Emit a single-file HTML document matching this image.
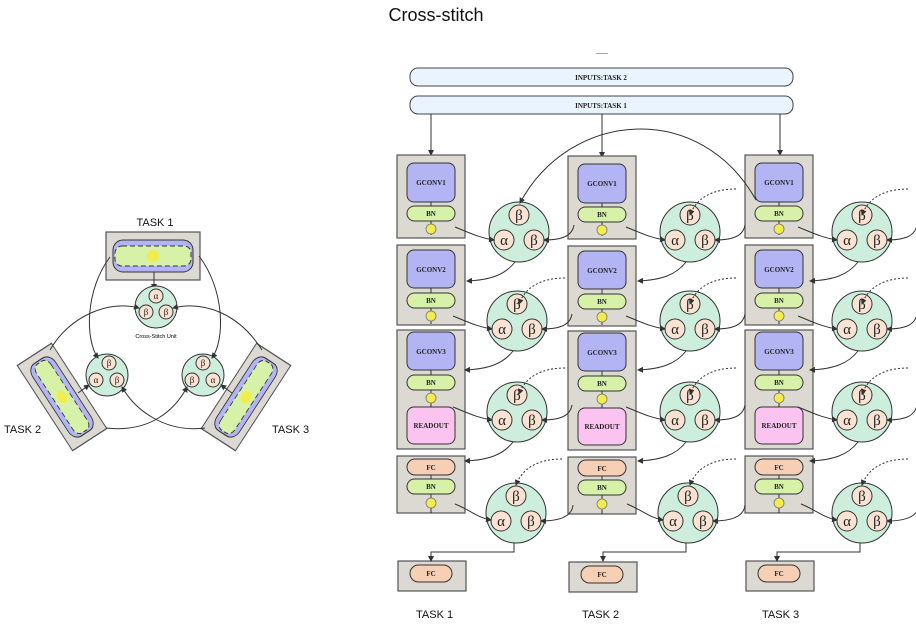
<!DOCTYPE html>
<html><head><meta charset="utf-8"><style>
html,body{margin:0;padding:0;background:#fff;}
svg{display:block;font-family:"Liberation Serif",serif;}
.bx{fill:#dcd8d2;stroke:#555;stroke-width:1.2}
.gc{fill:#b3b4f3;stroke:#333;stroke-width:1}
.bn{fill:#d7f2a8;stroke:#333;stroke-width:1}
.fc{fill:#f6cfb4;stroke:#333;stroke-width:1}
.ro{fill:#fbc3f0;stroke:#333;stroke-width:1}
.ball{fill:#f3ec4f;stroke:#777;stroke-width:0.8}
.cs{fill:#cdeedd;stroke:#333;stroke-width:1}
.sc{fill:#fbe3d3;stroke:#333;stroke-width:1}
.ln{fill:none;stroke:#333;stroke-width:1}
.dl{fill:none;stroke:#333;stroke-width:1;stroke-dasharray:2 2}
.t{font-size:7px;text-anchor:middle;fill:#222;font-weight:bold}
.g{font-size:15px;text-anchor:middle;fill:#222}
.gs{font-size:9px;text-anchor:middle;fill:#222}
.lab{font-family:"Liberation Sans",sans-serif;font-size:11px;fill:#111}
</style></head><body>
<svg width="916" height="625" viewBox="0 0 916 625" xmlns="http://www.w3.org/2000/svg">
<defs><marker id="a" markerWidth="6" markerHeight="6" refX="5" refY="3" orient="auto"><path d="M0,0 L6,3 L0,6 z" fill="#333"/></marker>
<g id="tb">
<rect class="bx" x="-47" y="-24" width="94" height="48"/>
<rect x="-40" y="-16" width="80" height="32" rx="10" fill="#b3b4f3" stroke="#333"/>
<rect x="-38" y="-10" width="76" height="20" rx="7" fill="#d7f2a8" stroke="#333" stroke-dasharray="5 3"/>
<circle cx="0" cy="0" r="6" fill="#f3ec4f"/>
</g>
</defs>
<text x="436" y="21" font-family="Liberation Sans,sans-serif" font-size="18" text-anchor="middle" fill="#111">Cross-stitch</text>
<text x="602" y="54" font-size="8" text-anchor="middle">......</text>
<rect x="410" y="68" width="383" height="18" rx="8" fill="#e9f4fe" stroke="#444"/>
<text x="601" y="80" class="t">INPUTS:TASK 2</text>
<rect x="410" y="96" width="383" height="18" rx="8" fill="#e9f4fe" stroke="#444"/>
<text x="601" y="108" class="t">INPUTS:TASK 1</text>
<path class="ln" marker-end="url(#a)" d="M431 114 V155"/>
<path class="ln" marker-end="url(#a)" d="M602 114 V157"/>
<path class="ln" marker-end="url(#a)" d="M780 114 V155"/>

<g id="col1">
<rect class="bx" x="397" y="155" width="68" height="83"/>
<line class="ln" x1="431" y1="200" x2="431" y2="235"/>
<rect class="gc" x="407" y="163" width="48" height="39" rx="7"/><text x="431" y="185" class="t">GCONV1</text>
<rect class="bn" x="407" y="206" width="48" height="15" rx="7.5"/><text x="431" y="216" class="t">BN</text>
<circle class="ball" cx="431" cy="229" r="5"/>
<rect class="bx" x="397" y="245" width="68" height="80"/>
<line class="ln" x1="431" y1="287" x2="431" y2="324"/>
<rect class="gc" x="407" y="250" width="48" height="38" rx="7"/><text x="431" y="272" class="t">GCONV2</text>
<rect class="bn" x="407" y="293" width="48" height="15" rx="7.5"/><text x="431" y="303" class="t">BN</text>
<circle class="ball" cx="431" cy="316" r="5"/>
<rect class="bx" x="397" y="330" width="68" height="119"/>
<line class="ln" x1="431" y1="370" x2="431" y2="410"/>
<rect class="gc" x="407" y="332" width="48" height="38" rx="7"/><text x="431" y="354" class="t">GCONV3</text>
<rect class="bn" x="407" y="375" width="48" height="15" rx="7.5"/><text x="431" y="385" class="t">BN</text>
<circle class="ball" cx="431" cy="398" r="5"/>
<rect class="ro" x="407" y="407" width="48" height="37" rx="7"/><text x="431" y="428" class="t">READOUT</text>
<rect class="bx" x="397" y="456" width="68" height="57"/>
<line class="ln" x1="431" y1="474" x2="431" y2="513"/>
<rect class="fc" x="407" y="459" width="48" height="16" rx="8"/><text x="431" y="470" class="t">FC</text>
<rect class="bn" x="407" y="479" width="48" height="15" rx="7.5"/><text x="431" y="489" class="t">BN</text>
<circle class="ball" cx="431" cy="503" r="5"/>
<rect class="bx" x="398" y="561" width="68" height="30"/>
<rect class="fc" x="410" y="565" width="42" height="17" rx="8.5"/><text x="431" y="576" class="t">FC</text>
</g>
<use href="#col1" x="171" y="1"/>
<use href="#col1" x="348" y="0"/>

<g id="csrow">
<circle class="cs" cx="519" cy="232" r="30"/>
<circle class="sc" cx="519" cy="215" r="10"/><text x="519" y="220" class="g">β</text>
<circle class="sc" cx="504" cy="240" r="10"/><text x="504" y="245" class="g">α</text>
<circle class="sc" cx="534" cy="240" r="10"/><text x="534" y="245" class="g">β</text>
<path class="ln" marker-end="url(#a)" d="M455 227 C470 233, 480 238, 494 240"/>
<path class="ln" marker-end="url(#a)" d="M574 225 C572 237, 560 240, 544 240"/>
<path class="ln" marker-end="url(#a)" d="M515 262 C505 275, 490 280, 467 281"/>
</g>
<use href="#csrow" x="171" y="0"/>
<use href="#csrow" x="343" y="0"/>
<use href="#csrow" x="-2" y="89"/>
<use href="#csrow" x="171" y="89"/>
<use href="#csrow" x="343" y="89"/>
<use href="#csrow" x="-2" y="180"/>
<use href="#csrow" x="171" y="180"/>
<use href="#csrow" x="343" y="180"/>
<g id="csr4">
<circle class="cs" cx="516" cy="513" r="30"/>
<circle class="sc" cx="516" cy="496" r="10"/><text x="516" y="501" class="g">β</text>
<circle class="sc" cx="501" cy="521" r="10"/><text x="501" y="526" class="g">α</text>
<circle class="sc" cx="531" cy="521" r="10"/><text x="531" y="526" class="g">β</text>
<path class="ln" marker-end="url(#a)" d="M455 504 C470 510, 478 518, 491 520"/>
<path class="ln" marker-end="url(#a)" d="M573 505 C572 517, 558 521, 541 521"/>
<path class="ln" marker-end="url(#a)" d="M514 543 V552 H431 V561"/>
</g>
<use href="#csr4" x="172" y="0"/>
<use href="#csr4" x="346" y="0"/>
<g id="dots"><path class="dl" marker-end="url(#a)" d="M565 278 C540 278, 525 288, 519 304"/></g>
<use href="#dots" x="0" y="90"/>
<use href="#dots" x="-3" y="181"/>
<use href="#dots" x="171" y="-89"/><use href="#dots" x="171" y="0"/><use href="#dots" x="171" y="90"/><use href="#dots" x="171" y="181"/>
<use href="#dots" x="343" y="-89"/><use href="#dots" x="343" y="0"/><use href="#dots" x="343" y="90"/><use href="#dots" x="343" y="181"/>
<path class="ln" marker-end="url(#a)" d="M756 200 C700 100, 570 110, 520 203"/>

<text x="416" y="618" class="lab">TASK 1</text>
<text x="582" y="618" class="lab">TASK 2</text>
<text x="762" y="618" class="lab">TASK 3</text>

<text x="155" y="226" class="lab" text-anchor="middle">TASK 1</text>
<use href="#tb" transform="translate(153,256)"/>
<use href="#tb" transform="translate(62,397) rotate(57) scale(1.08,0.85)"/>
<use href="#tb" transform="translate(246,397) rotate(-57) scale(1.08,0.85)"/>
<text x="4" y="433" class="lab">TASK 2</text>
<text x="272" y="433" class="lab">TASK 3</text>
<path class="ln" marker-end="url(#a)" d="M154 272 V289"/>
<circle class="cs" cx="156" cy="307" r="21"/>
<circle class="sc" cx="156" cy="296" r="7"/><text x="156" y="299" class="gs">α</text>
<circle class="sc" cx="146" cy="312" r="7"/><text x="146" y="315" class="gs">β</text>
<circle class="sc" cx="166" cy="312" r="7"/><text x="166" y="315" class="gs">β</text>
<text x="156" y="338" font-family="Liberation Sans,sans-serif" font-size="5.5" text-anchor="middle">Cross-Stitch Unit</text>
<circle class="cs" cx="107" cy="375" r="21"/>
<circle class="sc" cx="109" cy="363" r="7"/><text x="109" y="366" class="gs">β</text>
<circle class="sc" cx="96" cy="380" r="7"/><text x="96" y="383" class="gs">α</text>
<circle class="sc" cx="117" cy="380" r="7"/><text x="117" y="383" class="gs">β</text>
<circle class="cs" cx="203" cy="375" r="21"/>
<circle class="sc" cx="203" cy="363" r="7"/><text x="203" y="366" class="gs">β</text>
<circle class="sc" cx="192" cy="380" r="7"/><text x="192" y="383" class="gs">β</text>
<circle class="sc" cx="213" cy="380" r="7"/><text x="213" y="383" class="gs">α</text>
<path class="ln" marker-end="url(#a)" d="M110 257 C85 290, 85 340, 98 358"/>
<path class="ln" marker-end="url(#a)" d="M199 256 C225 290, 225 340, 212 358"/>
<path class="ln" marker-end="url(#a)" d="M50 350 C70 315, 110 300, 139 308"/>
<path class="ln" marker-end="url(#a)" d="M262 350 C240 315, 205 300, 173 308"/>
<path class="ln" marker-end="url(#a)" d="M78 393 L89 385"/>
<path class="ln" marker-end="url(#a)" d="M232 393 L221 385"/>
<path class="ln" marker-end="url(#a)" d="M106 428 C150 433, 175 410, 187 387"/>
<path class="ln" marker-end="url(#a)" d="M205 428 C165 433, 135 410, 122 387"/>
</svg>
</body></html>
